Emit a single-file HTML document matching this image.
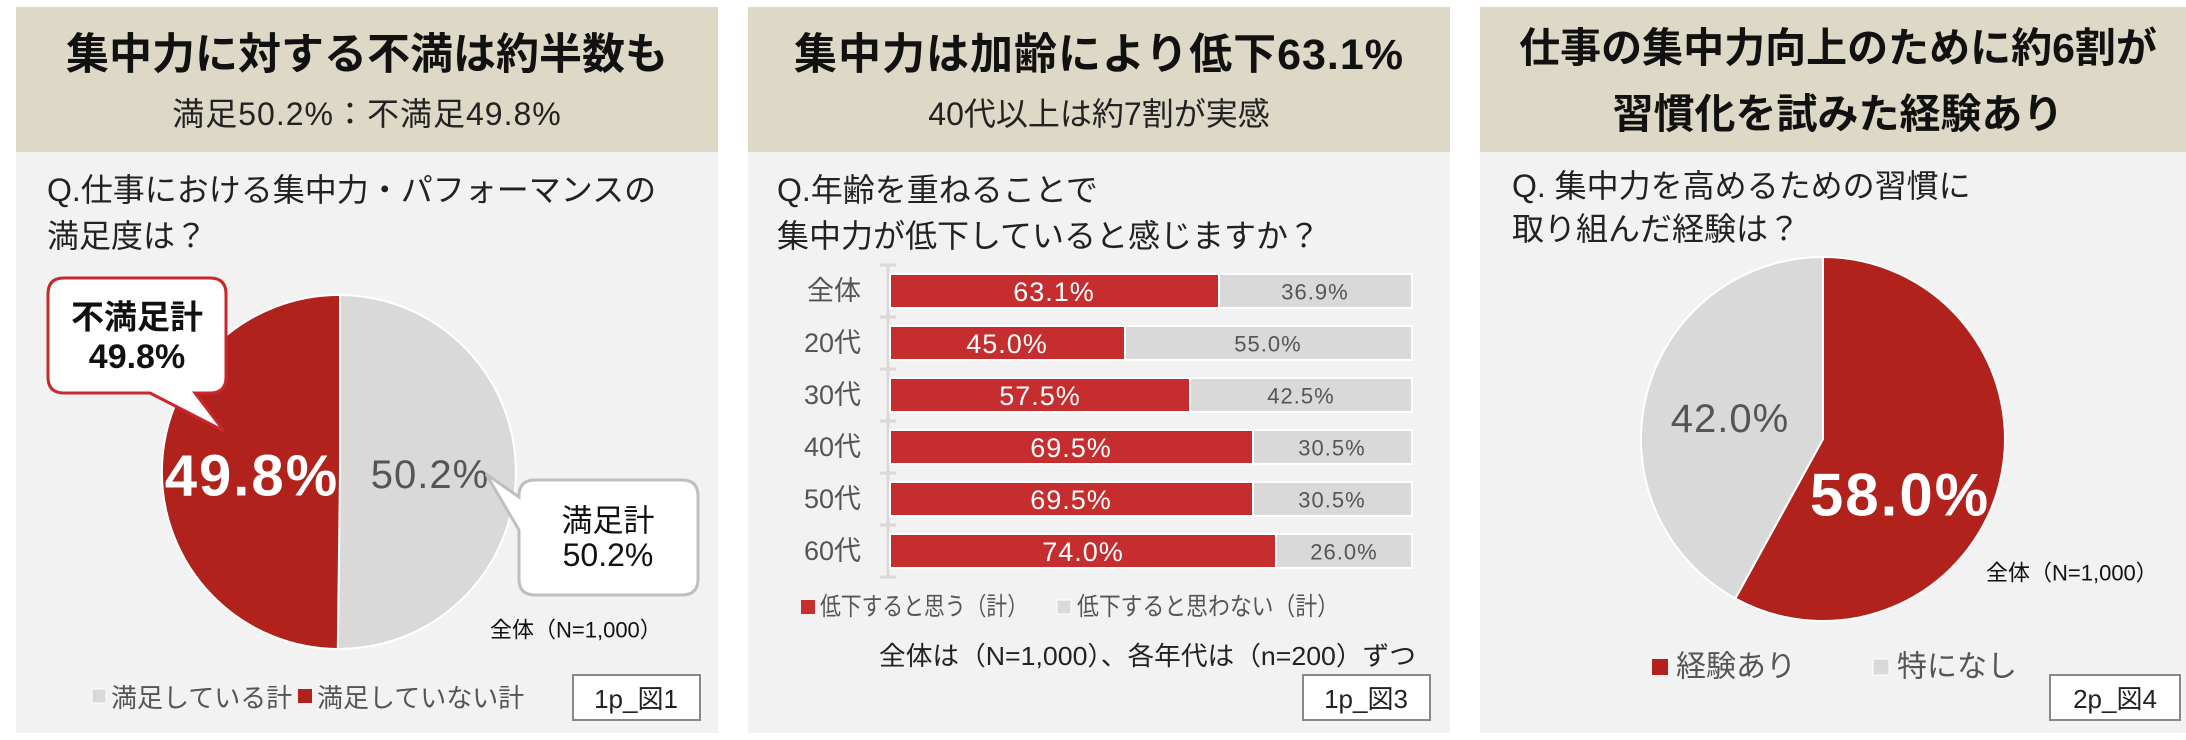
<!DOCTYPE html>
<html><head><meta charset="utf-8"><style>
html,body{margin:0;padding:0;background:#fff;width:2186px;height:740px;overflow:hidden}
svg{display:block}
text{font-family:"Liberation Sans","Noto Sans CJK JP",sans-serif;dominant-baseline:central}
</style></head><body>
<svg width="2186" height="740" viewBox="0 0 2186 740">
<!-- Panel 1 -->
<rect x="16" y="7" width="702" height="726" fill="#f2f2f2"/>
<rect x="16" y="7" width="702" height="145" fill="#ddd9c6"/>
<text x="367" y="55" font-size="43" font-weight="bold" text-anchor="middle" fill="#111">集中力に対する不満は約半数も</text>
<text x="367" y="114" font-size="32" text-anchor="middle" fill="#222" letter-spacing="1">満足50.2%：不満足49.8%</text>
<text x="47" y="190" font-size="32" fill="#222">Q.仕事における集中力・パフォーマンスの</text>
<text x="47" y="236" font-size="32" fill="#222">満足度は？</text>
<path d="M340 472 L340 295 A177 177 0 0 1 337.8 649 Z" fill="#d9d9d9" stroke="#fff" stroke-width="2"/>
<path d="M340 472 L337.8 649 A177 177 0 0 1 340 295 Z" fill="#b0221b" stroke="#fff" stroke-width="2"/>
<text x="252" y="476" font-size="58" font-weight="bold" text-anchor="middle" fill="#fff" letter-spacing="2">49.8%</text>
<text x="430" y="475" font-size="40" text-anchor="middle" fill="#555" letter-spacing="1">50.2%</text>
<path d="M64 278 H210 Q226 278 226 294 V377 Q226 393 210 393 H195 L224 431 L150 393 H64 Q48 393 48 377 V294 Q48 278 64 278 Z" fill="#fff" stroke="#c8282c" stroke-width="3"/>
<text x="137" y="317" font-size="33" font-weight="bold" text-anchor="middle" fill="#111">不満足計</text>
<text x="137" y="357" font-size="34" font-weight="bold" text-anchor="middle" fill="#111">49.8%</text>
<path d="M535 480 H682 Q698 480 698 496 V579 Q698 595 682 595 H535 Q519 595 519 579 V530 L486 474 L519 497 V496 Q519 480 535 480 Z" fill="#fff" stroke="#bfbfbf" stroke-width="3"/>
<text x="608" y="521" font-size="31" text-anchor="middle" fill="#111">満足計</text>
<text x="608" y="555" font-size="32" text-anchor="middle" fill="#111">50.2%</text>
<text x="490" y="630" font-size="22" fill="#111">全体（N=1,000）</text>
<rect x="92" y="689" width="14" height="14" fill="#d9d9d9" stroke="#fff" stroke-width="1"/>
<text x="111" y="698" font-size="26" fill="#555">満足している計</text>
<rect x="298" y="689" width="14" height="14" fill="#b0221b"/>
<text x="317" y="698" font-size="26" fill="#555">満足していない計</text>
<rect x="573" y="675" width="127" height="45" fill="#fff" stroke="#888" stroke-width="2"/>
<text x="636" y="699" font-size="26" text-anchor="middle" fill="#222">1p_図1</text>

<!-- Panel 2 -->
<rect x="748" y="7" width="702" height="726" fill="#f2f2f2"/>
<rect x="748" y="7" width="702" height="145" fill="#ddd9c6"/>
<text x="1099" y="55" font-size="43" font-weight="bold" text-anchor="middle" fill="#111" letter-spacing="1">集中力は加齢により低下63.1%</text>
<text x="1099" y="114" font-size="32" text-anchor="middle" fill="#222">40代以上は約7割が実感</text>
<text x="777" y="190" font-size="32" fill="#222">Q.年齢を重ねることで</text>
<text x="777" y="236" font-size="32" fill="#222">集中力が低下していると感じますか？</text>
<line x1="888" y1="264" x2="888" y2="577" stroke="#d9d9d9" stroke-width="3"/>
<g stroke="#d9d9d9" stroke-width="3">
<line x1="880" y1="265" x2="896" y2="265"/><line x1="880" y1="317" x2="896" y2="317"/><line x1="880" y1="369" x2="896" y2="369"/><line x1="880" y1="421" x2="896" y2="421"/><line x1="880" y1="473" x2="896" y2="473"/><line x1="880" y1="525" x2="896" y2="525"/><line x1="880" y1="577" x2="896" y2="577"/>
</g>
<g font-size="27" fill="#555" text-anchor="end">
<text x="861" y="291">全体</text><text x="861" y="343">20代</text><text x="861" y="395">30代</text><text x="861" y="447">40代</text><text x="861" y="499">50代</text><text x="861" y="551">60代</text>
</g>
<g stroke="#fff" stroke-width="2">
<rect x="890" y="274" width="329" height="34" fill="#c62d2f"/><rect x="1219" y="274" width="193" height="34" fill="#d9d9d9"/>
<rect x="890" y="326" width="235" height="34" fill="#c62d2f"/><rect x="1125" y="326" width="287" height="34" fill="#d9d9d9"/>
<rect x="890" y="378" width="300" height="34" fill="#c62d2f"/><rect x="1190" y="378" width="222" height="34" fill="#d9d9d9"/>
<rect x="890" y="430" width="363" height="34" fill="#c62d2f"/><rect x="1253" y="430" width="159" height="34" fill="#d9d9d9"/>
<rect x="890" y="482" width="363" height="34" fill="#c62d2f"/><rect x="1253" y="482" width="159" height="34" fill="#d9d9d9"/>
<rect x="890" y="534" width="386" height="34" fill="#c62d2f"/><rect x="1276" y="534" width="136" height="34" fill="#d9d9d9"/>
</g>
<g font-size="27" fill="#fff" text-anchor="middle" letter-spacing="1">
<text x="1054" y="292">63.1%</text><text x="1007" y="344">45.0%</text><text x="1040" y="396">57.5%</text><text x="1071" y="448">69.5%</text><text x="1071" y="500">69.5%</text><text x="1083" y="552">74.0%</text>
</g>
<g font-size="22" fill="#555" text-anchor="middle" letter-spacing="1">
<text x="1315" y="292">36.9%</text><text x="1268" y="344">55.0%</text><text x="1301" y="396">42.5%</text><text x="1332" y="448">30.5%</text><text x="1332" y="500">30.5%</text><text x="1344" y="552">26.0%</text>
</g>
<rect x="801" y="600" width="14" height="14" fill="#c62d2f"/>
<text x="820" y="607" font-size="25" fill="#555" textLength="208" lengthAdjust="spacingAndGlyphs">低下すると思う（計）</text>
<rect x="1057" y="600" width="14" height="14" fill="#d9d9d9" stroke="#fff"/>
<text x="1077" y="607" font-size="25" fill="#555" textLength="262" lengthAdjust="spacingAndGlyphs">低下すると思わない（計）</text>
<text x="879" y="656" font-size="26" fill="#222" textLength="537" lengthAdjust="spacingAndGlyphs">全体は（N=1,000）、各年代は（n=200）ずつ</text>
<rect x="1303" y="675" width="127" height="45" fill="#fff" stroke="#888" stroke-width="2"/>
<text x="1366" y="699" font-size="26" text-anchor="middle" fill="#222">1p_図3</text>

<!-- Panel 3 -->
<rect x="1480" y="7" width="706" height="726" fill="#f2f2f2"/>
<rect x="1480" y="7" width="706" height="145" fill="#ddd9c6"/>
<text x="1838" y="48" font-size="41" font-weight="bold" text-anchor="middle" fill="#111">仕事の集中力向上のために約6割が</text>
<text x="1838" y="114" font-size="41" font-weight="bold" text-anchor="middle" fill="#111">習慣化を試みた経験あり</text>
<text x="1512" y="186" font-size="32" fill="#222">Q. 集中力を高めるための習慣に</text>
<text x="1512" y="229" font-size="32" fill="#222">取り組んだ経験は？</text>
<path d="M1823 439 L1823 257 A182 182 0 1 1 1735.3 598.5 Z" fill="#b0221b" stroke="#fff" stroke-width="2"/>
<path d="M1823 439 L1735.3 598.5 A182 182 0 0 1 1823 257 Z" fill="#d9d9d9" stroke="#fff" stroke-width="2"/>
<text x="1730" y="419" font-size="40" text-anchor="middle" fill="#555" letter-spacing="1">42.0%</text>
<text x="1900" y="495" font-size="60" font-weight="bold" text-anchor="middle" fill="#fff" letter-spacing="2">58.0%</text>
<text x="1986" y="573" font-size="22" fill="#111">全体（N=1,000）</text>
<rect x="1652" y="659" width="16" height="16" fill="#b0221b"/>
<text x="1676" y="667" font-size="30" fill="#555">経験あり</text>
<rect x="1873" y="659" width="16" height="16" fill="#d9d9d9" stroke="#fff"/>
<text x="1897" y="667" font-size="30" fill="#555">特になし</text>
<rect x="2050" y="675" width="130" height="45" fill="#fff" stroke="#888" stroke-width="2"/>
<text x="2115" y="699" font-size="26" text-anchor="middle" fill="#222">2p_図4</text>
</svg>
</body></html>
